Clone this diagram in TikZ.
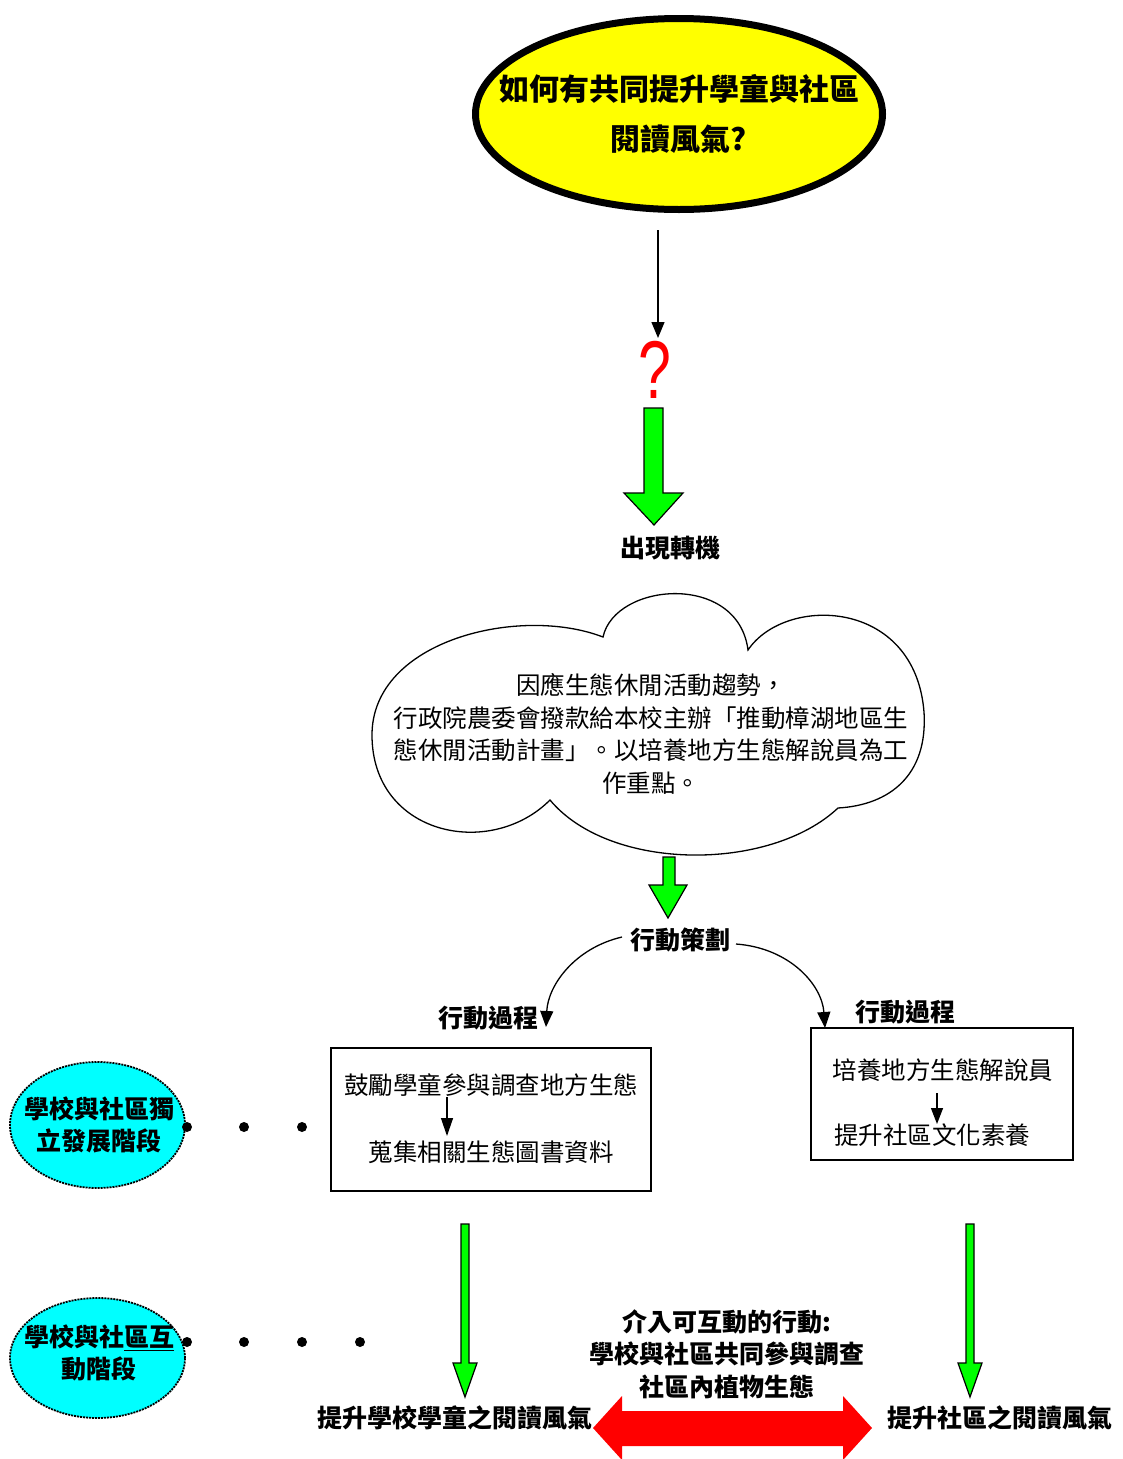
\documentclass[tikz,border=0pt]{standalone}
\usepackage{fontspec}
\newfontfamily\cjk{Noto Sans CJK TC}
\newfontfamily\qfont{Liberation Sans}
\usetikzlibrary{arrows.meta,shapes.geometric}
\definecolor{brightgreen}{RGB}{0,255,0}
\definecolor{aqua}{RGB}{0,255,255}
\definecolor{yel}{RGB}{255,255,0}
\definecolor{brightred}{RGB}{255,0,0}
\begin{document}
\begin{tikzpicture}[x=1pt,y=-1pt,
  txt/.style={inner sep=0pt, align=center, font=\cjk\fontsize{24.5}{32.7}\selectfont},
  btxt/.style={inner sep=0pt, align=center, font=\cjk\bfseries\fontsize{25}{32.5}\selectfont},
  arr/.style={line width=1.3pt, -{Triangle[length=16pt,width=13pt]}},
  garrow/.style={fill=brightgreen, draw=black, line width=1.2pt, line join=miter},
  stage/.style={ellipse, fill=aqua, draw=black, line width=1.8pt, dash pattern=on 2pt off 1pt,
     minimum width=175pt, inner sep=0pt},
  stagetxt/.style={inner sep=0pt, align=center, font=\cjk\bfseries\fontsize{25}{32}\selectfont},
  boxst/.style={draw=black, line width=1.3pt, fill=white},
  dotst/.style={circle, fill=black, inner sep=0pt, minimum size=10pt}
]
\clip (0,0) rectangle (1122,1459);
\fill[white] (0,0) rectangle (1122,1459);

% top question
\node[ellipse, draw=black, fill=yel, line width=7pt, minimum width=407pt, minimum height=191pt,
      inner sep=0pt] (q) at (679,114) {};
\node[inner sep=0pt, align=center, font=\cjk\bfseries\fontsize{30}{50}\selectfont] (qt) at (q.center)
      {如何有共同提升學童與社區\\閱讀風氣?};

\coordinate (qa) at (658,230);
\coordinate (qb) at (658,338);
\draw[arr] (qa) -- (qb);

\node[inner sep=0pt, text=brightred, font=\qfont\fontsize{82}{82}\selectfont, xscale=0.72] (qm) at (655,370) {?};

% green block arrow 1
\draw[garrow] (644,408) -- (663,408) -- (663,493) -- (683,493) -- (654,525) -- (624,493) -- (644,493) -- cycle;

\node[btxt] (turn) at (670,548) {出現轉機};

% cloud
\draw[line width=1.3pt, fill=white]
  (603,637) .. controls (615,582) and (738,572) .. (748,650)
  .. controls (785,595) and (915,598) .. (924,712)
  .. controls (928,775) and (890,805) .. (838,808)
  .. controls (770,872) and (610,872) .. (550,800)
  .. controls (490,860) and (372,835) .. (372,735)
  .. controls (372,640) and (520,605) .. (603,637) -- cycle;
\node[txt] (cloudtxt) at (651,734)
  {因應生態休閒活動趨勢，\\行政院農委會撥款給本校主辦「推動樟湖地區生\\態休閒活動計畫」。以培養地方生態解說員為工\\作重點。};

% green block arrow 2
\draw[garrow] (663,857) -- (675,857) -- (675,885) -- (687,885) -- (668,918) -- (649,885) -- (663,885) -- cycle;

\node[btxt] (plan) at (680,940) {行動策劃};
\node[btxt] (procL) at (488,1018) {行動過程};
\node[btxt] (procR) at (905,1012) {行動過程};

% boxes
\node[boxst, minimum width=320pt, minimum height=143pt, inner sep=0pt] (boxL) at (491,1119.5) {};
\node[boxst, minimum width=262pt, minimum height=132pt, inner sep=0pt] (boxR) at (942,1094) {};

\coordinate (cLs) at (622,937);
\coordinate (cLe) at (546,1027);
\coordinate (cRs) at (736,944);
\coordinate (cRe) at (825,1028);
\draw[arr] (cLs) .. controls (575,948) and (548,985) .. (cLe);
\draw[arr] (cRs) .. controls (790,948) and (822,985) .. (cRe);

\node[txt] (l1) at (491,1085) {鼓勵學童參與調查地方生態};
\node[txt] (l2) at (491,1152) {蒐集相關生態圖書資料};
\draw[line width=1.3pt, -{Triangle[length=18pt,width=12pt]}] (447,1097) -- (447,1136);

\node[txt] (r1) at (943,1070) {培養地方生態解說員};
\node[txt] (r2) at (932,1135) {提升社區文化素養};
\draw[line width=1.3pt, -{Triangle[length=16pt,width=12pt]}] (937,1093) -- (937,1124);

% stage ellipses
\node[stage, minimum height=126pt] (st1) at (97.5,1125) {};
\node[stagetxt] (st1t) at (99,1125) {學校與社區獨\\立發展階段};
\node[stage, minimum height=120pt] (st2) at (97.5,1358) {};
\node[stagetxt] (st2t) at (99,1353) {學校與社\underline{區互}\\動階段};

\node[dotst] (d11) at (187,1127) {};
\node[dotst] (d12) at (244,1127) {};
\node[dotst] (d13) at (302,1127) {};
\node[dotst] (d21) at (187,1342) {};
\node[dotst] (d22) at (244,1342) {};
\node[dotst] (d23) at (302,1342) {};
\node[dotst] (d24) at (360,1342) {};

% bottom green arrows
\draw[garrow] (461,1224) -- (469,1224) -- (469,1363) -- (477,1363) -- (465,1397) -- (453,1363) -- (461,1363) -- cycle;
\draw[garrow] (966,1224) -- (974,1224) -- (974,1363) -- (982,1363) -- (970,1397) -- (958,1363) -- (966,1363) -- cycle;

\node[btxt] (inter) at (727,1354) {介入可互動的行動:\\學校與社區共同參與調查\\社區內植物生態};

\node[btxt] (resL) at (455,1418) {提升學校學童之閱讀風氣};
\node[btxt] (resR) at (1000,1418) {提升社區之閱讀風氣};

% red double arrow
\fill[brightred] (593,1428) -- (622,1396) -- (622,1411) -- (843,1411) -- (843,1396) -- (872,1428)
  -- (843,1460) -- (843,1446) -- (622,1446) -- (622,1460) -- cycle;
\end{tikzpicture}
\end{document}
